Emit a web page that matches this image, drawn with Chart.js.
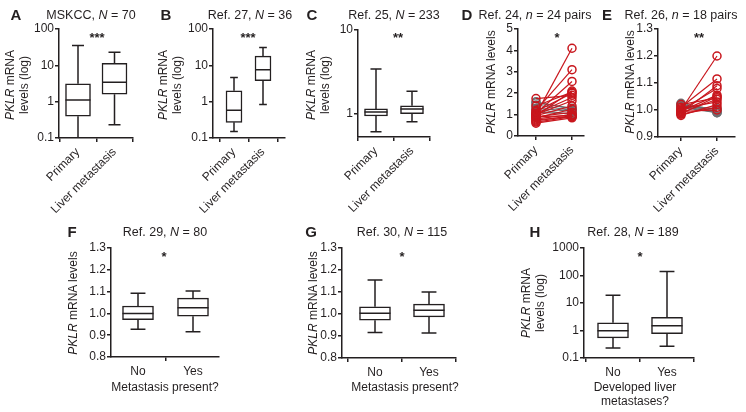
<!DOCTYPE html>
<html lang="en">
<head>
<meta charset="UTF-8">
<title>PKLR mRNA levels</title>
<style>
  body { margin: 0; width: 746px; height: 412px; position: relative; overflow: hidden; background: #fff;
         font-family: "Liberation Sans", Arial, sans-serif; color: #231f20; }
  canvas { position: absolute; }
  .t { position: absolute; white-space: nowrap; font-size: 12px; line-height: 14px; width: 200px;
       transform: translate(-50%, -50%); text-align: center; }
  .letter { font-size: 15px; font-weight: bold; width: 20px; }
  .title { font-size: 12.5px; }
  .star { font-size: 13px; font-weight: bold; width: 30px; }
  .ytitle { width: 120px; transform: translate(-50%, -50%) rotate(-90deg); }
</style>
</head>
<body>
<script src="https://cdn.jsdelivr.net/npm/chart.js"></script>
<script>
// ---- data ----
const topGroups = ['Primary', 'Liver metastasis'];
const bottomGroups = ['No', 'Yes'];

// box stats: [min, q1, median, q3, max]
const boxA = [[0.08, 0.4, 1.12, 3.1, 35], [0.23, 1.6, 3.4, 11.4, 23]];
const boxB = [[0.15, 0.27, 0.58, 2.0, 4.6], [0.83, 3.8, 7.5, 18, 31]];
const boxC = [[0.6, 0.93, 1.04, 1.13, 3.4], [0.79, 0.99, 1.13, 1.23, 1.84]];
const boxF = [[0.927, 0.971, 0.999, 1.034, 1.093], [0.916, 0.987, 1.026, 1.07, 1.103]];
const boxG = [[0.916, 0.972, 1.003, 1.033, 1.154], [0.914, 0.987, 1.017, 1.045, 1.1]];
const boxH = [[0.23, 0.54, 0.97, 1.9, 19], [0.27, 0.76, 1.5, 3.0, 140]];

// paired samples
const dPrimary = [1.75, 1.6, 1.55, 1.45, 1.4, 1.3, 1.25, 1.2, 1.15, 1.1, 1.05, 1.05, 1.0, 1.0, 0.95, 0.95, 0.9, 0.9, 0.85, 0.8, 0.75, 0.7, 0.65, 0.6];
const dLiver   = [1.9, 1.25, 1.3, 1.2, 2.05, 1.15, 1.0, 3.1, 2.0, 1.05, 2.55, 1.8, 4.1, 1.65, 2.1, 1.4, 1.1, 0.95, 1.25, 1.0, 0.9, 0.95, 0.9, 0.85];
const ePrimary = [1.0, 1.01, 0.99, 1.0, 0.995, 0.985, 1.02, 0.99, 1.005, 0.98, 0.985, 0.995, 1.025, 1.02, 1.015, 1.01, 1.02, 1.015];
const eLiver   = [1.2, 1.115, 1.09, 1.08, 1.055, 1.05, 1.045, 1.04, 1.03, 1.02, 1.01, 1.0, 1.0, 0.995, 0.99, 0.99, 0.995, 1.005];

// tick labels
const ticksLog100 = [0.1, 1, 10, 100];
const ticksLogC = [1, 10];
const ticksLog1000 = [0.1, 1, 10, 100, 1000];
const ticksD = [0, 1, 2, 3, 4, 5];
const ticksE = [0.9, 1.0, 1.1, 1.2, 1.3];
const ticksFG = [0.8, 0.9, 1.0, 1.1, 1.2, 1.3];

// ---- layout (page px) ----
const ink = '#231f20';
const red = '#c8161d';
const grey = '#6d6e71';
const YW = 45, PT = 12, PR = 8;

Chart.defaults.font.family = '"Liberation Sans", Arial, sans-serif';
Chart.defaults.font.size = 12;
Chart.defaults.color = ink;

function makeCanvas(g) {
    const c = document.createElement('canvas');
    const w = g.R - g.L + YW + PR, h = g.B - g.T + PT + g.xh;
    c.width = w; c.height = h;
    c.style.left = (g.L - YW) + 'px';
    c.style.top = (g.T - PT) + 'px';
    c.style.width = w + 'px';
    c.style.height = h + 'px';
    document.body.appendChild(c);
    return c;
}

function axisLook() {
    return {
        grid: { drawOnChartArea: false, tickLength: 4, color: ink, lineWidth: 1.5 },
        border: { color: ink, width: 1.5 }
    };
}

function yScale(type, min, max, ticks, fmt) {
    return Object.assign({
        type: type, min: min, max: max,
        afterBuildTicks: s => { s.ticks = ticks.map(v => ({ value: v })); },
        afterFit: s => { s.width = YW; },
        ticks: { callback: fmt, padding: 1, autoSkip: false }
    }, axisLook());
}

function xScale(g, labels, rot) {
    const unit = g.c1 - g.c0;
    return Object.assign({
        type: 'linear', offset: false,
        min: -(g.c0 - g.L) / unit, max: 1 + (g.R - g.c1) / unit,
        afterBuildTicks: s => { s.ticks = [{ value: 0 }, { value: 1 }]; },
        afterFit: s => { s.height = g.xh; },
        ticks: { callback: v => labels[v], minRotation: rot, maxRotation: rot, padding: 3, autoSkip: false }
    }, axisLook());
}

// whiskers + median on top of the floating bar boxes
const whiskers = {
    id: 'whiskers',
    afterDatasetsDraw(chart, args, opts) {
        const { ctx, chartArea, scales: { x, y } } = chart;
        ctx.save();
        ctx.beginPath();
        ctx.rect(chartArea.left, chartArea.top, chartArea.width, chartArea.height);
        ctx.clip();
        ctx.strokeStyle = ink;
        ctx.lineWidth = 1.5;
        opts.stats.forEach((s, i) => {
            const cx = x.getPixelForValue(i);
            const p = s.map(v => y.getPixelForValue(v));
            const half = opts.width / 2, cap = opts.width * 0.24;
            ctx.beginPath();
            ctx.moveTo(cx, p[3]); ctx.lineTo(cx, p[4]);
            ctx.moveTo(cx - cap, p[4]); ctx.lineTo(cx + cap, p[4]);
            ctx.moveTo(cx, p[1]); ctx.lineTo(cx, p[0]);
            ctx.moveTo(cx - cap, p[0]); ctx.lineTo(cx + cap, p[0]);
            ctx.moveTo(cx - half, p[2]); ctx.lineTo(cx + half, p[2]);
            ctx.stroke();
        });
        ctx.restore();
    }
};

const fmtPlain = v => String(v);
const fmtOne = v => v.toFixed(1);

function boxPanel(g, labels, rot, stats, width, y) {
    new Chart(makeCanvas(g), {
        type: 'bar',
        data: {
            datasets: [{
                data: stats.map((s, i) => ({ x: i, y: [s[1], s[3]] })),
                backgroundColor: '#fff',
                borderColor: ink,
                borderWidth: 1.5,
                borderSkipped: false,
                barThickness: width
            }]
        },
        options: {
            responsive: false, animation: false, events: [],
            layout: { padding: { top: PT, right: PR, left: 0, bottom: 0 } },
            scales: { x: xScale(g, labels, rot), y: y },
            plugins: { legend: { display: false }, tooltip: { enabled: false }, whiskers: { stats: stats, width: width } }
        },
        plugins: [whiskers]
    });
}

function pairPanel(g, primary, liver, y) {
    const sets = primary.map((p, i) => {
        const c = liver[i] < p ? grey : red;
        return {
            data: [{ x: 0, y: p }, { x: 1, y: liver[i] }],
            borderColor: c, borderWidth: 1.2,
            pointRadius: 4, pointBorderWidth: 1.5,
            pointBorderColor: c, pointBackgroundColor: 'rgba(255,255,255,0)',
            order: liver[i] < p ? 1 : 0,
            clip: false
        };
    });
    new Chart(makeCanvas(g), {
        type: 'line',
        data: { datasets: sets },
        options: {
            responsive: false, animation: false, events: [],
            layout: { padding: { top: PT, right: PR, left: 0, bottom: 0 } },
            scales: { x: xScale(g, topGroups, 45), y: y },
            plugins: { legend: { display: false }, tooltip: { enabled: false } }
        }
    });
}

const gA = { L: 59, R: 133, T: 29, B: 138, c0: 78, c1: 114.5, xh: 75 };
const gB = { L: 213, R: 285, T: 29, B: 138, c0: 234, c1: 263, xh: 75 };
const gC = { L: 358, R: 430, T: 30, B: 137, c0: 376, c1: 412, xh: 76 };
const gD = { L: 518, R: 584, T: 29, B: 136, c0: 536, c1: 572, xh: 77 };
const gE = { L: 658, R: 735, T: 29, B: 137, c0: 681, c1: 717, xh: 76 };
const gF = { L: 111, R: 219, T: 248, B: 357, c0: 138, c1: 193, xh: 24 };
const gG = { L: 342, R: 456, T: 248, B: 358, c0: 375, c1: 429, xh: 24 };
const gH = { L: 584, R: 694, T: 248, B: 358, c0: 613, c1: 667, xh: 24 };

boxPanel(gA, topGroups, 45, boxA, 25, yScale('logarithmic', 0.1, 100, ticksLog100, fmtPlain));
boxPanel(gB, topGroups, 45, boxB, 16, yScale('logarithmic', 0.1, 100, ticksLog100, fmtPlain));
boxPanel(gC, topGroups, 45, boxC, 23, yScale('logarithmic', 0.52, 10, ticksLogC, fmtPlain));
pairPanel(gD, dPrimary, dLiver, yScale('linear', 0, 5, ticksD, fmtPlain));
pairPanel(gE, ePrimary, eLiver, yScale('linear', 0.9, 1.3, ticksE, fmtOne));
boxPanel(gF, bottomGroups, 0, boxF, 31, yScale('linear', 0.8, 1.3, ticksFG, fmtOne));
boxPanel(gG, bottomGroups, 0, boxG, 31, yScale('linear', 0.8, 1.3, ticksFG, fmtOne));
boxPanel(gH, bottomGroups, 0, boxH, 31, yScale('logarithmic', 0.1, 1000, ticksLog1000, fmtPlain));

// ---- text ----
function text(html, x, y, cls) {
    const d = document.createElement('div');
    d.className = 't ' + (cls || '');
    d.style.left = x + 'px';
    d.style.top = y + 'px';
    d.innerHTML = html;
    document.body.appendChild(d);
}

const logTitle = '<i>PKLR</i> mRNA<br>levels (log)';
const linTitle = '<i>PKLR</i> mRNA levels';

[['A', 16, 15], ['B', 166, 15], ['C', 312, 15], ['D', 467, 15], ['E', 607, 15],
 ['F', 72, 232], ['G', 311, 232], ['H', 535, 232]].forEach(l => text(l[0], l[1], l[2], 'letter'));

text('MSKCC, <i>N</i> = 70', 91, 15, 'title');
text('Ref. 27, <i>N</i> = 36', 250, 15, 'title');
text('Ref. 25, <i>N</i> = 233', 394, 15, 'title');
text('Ref. 24, <i>n</i> = 24 pairs', 535, 15, 'title');
text('Ref. 26, <i>n</i> = 18 pairs', 681, 15, 'title');
text('Ref. 29, <i>N</i> = 80', 165, 232, 'title');
text('Ref. 30, <i>N</i> = 115', 402, 232, 'title');
text('Ref. 28, <i>N</i> = 189', 633, 232, 'title');

[['***', 97, 38], ['***', 248, 38], ['**', 398, 38], ['*', 557, 38], ['**', 699, 38],
 ['*', 164, 257], ['*', 402, 257], ['*', 640, 257]].forEach(s => text(s[0], s[1], s[2], 'star'));

text(logTitle, 17, 85, 'ytitle');
text(logTitle, 170, 85, 'ytitle');
text(logTitle, 318, 85, 'ytitle');
text(linTitle, 491, 82, 'ytitle');
text(linTitle, 630, 82, 'ytitle');
text(linTitle, 73, 303, 'ytitle');
text(linTitle, 313, 303, 'ytitle');
text(logTitle, 533, 303, 'ytitle');

text('Metastasis present?', 165, 387);
text('Metastasis present?', 405, 387);
text('Developed liver<br>metastases?', 635, 394);
</script>
</body>
</html>
